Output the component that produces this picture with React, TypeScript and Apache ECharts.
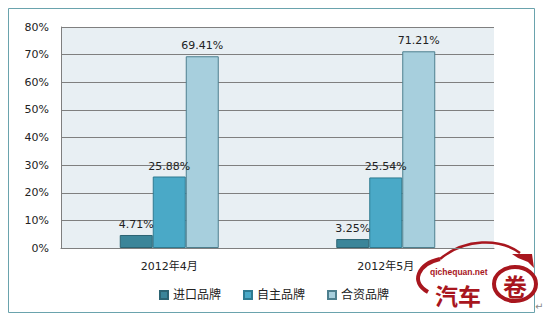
import React, { useEffect, useRef } from "react";
import * as echarts from "echarts";

const categories = ["2012年4月", "2012年5月"];
const seriesNames = ["进口品牌", "自主品牌", "合资品牌"];
const importBrand = [4.71, 3.25];
const domesticBrand = [25.88, 25.54];
const jointBrand = [69.41, 71.21];
const colors = ["#3b8599", "#4aa9c7", "#a7cfdd"];
const borderColors = ["#2c6473", "#2f7b91", "#4d7f8e"];

const FONT = "'DejaVu Sans', 'Noto Sans CJK SC', sans-serif";
const RED = "#a8161e";

export default function App() {
  const ref = useRef<HTMLDivElement>(null);
  useEffect(() => {
    const chart = echarts.init(ref.current!, null, { renderer: "svg" });
    const data = [importBrand, domesticBrand, jointBrand];
    chart.setOption({
      animation: false,
      backgroundColor: "#ffffff",
      textStyle: { fontFamily: FONT },
      grid: { left: 61, top: 27, width: 433, height: 221, show: true, backgroundColor: "#e8eff3", borderWidth: 0 },
      legend: {
        bottom: 11,
        left: "center",
        itemWidth: 8,
        itemHeight: 8,
        itemGap: 22,
        icon: "rect",
        textStyle: { fontSize: 12, color: "#222", fontFamily: FONT },
        data: seriesNames,
      },
      xAxis: {
        type: "category",
        data: categories,
        axisLine: { lineStyle: { color: "#7f7f7f" } },
        axisTick: { show: false },
        axisLabel: { color: "#222", fontSize: 11, margin: 13, fontFamily: FONT },
      },
      yAxis: {
        type: "value",
        min: 0,
        max: 80,
        interval: 10,
        axisLine: { show: true, lineStyle: { color: "#7f7f7f" } },
        axisTick: { show: false },
        splitLine: { lineStyle: { color: "#7f7f7f" } },
        axisLabel: { formatter: "{value}%", color: "#222", fontSize: 11, margin: 12, fontFamily: FONT },
      },
      series: seriesNames.map((name, i) => ({
        name,
        type: "bar",
        data: data[i],
        barWidth: 33,
        barGap: "0%",
        itemStyle: { color: colors[i], borderColor: borderColors[i], borderWidth: 1 },
        label: {
          show: true,
          position: "top",
          formatter: (p: any) => p.value.toFixed(2) + "%",
          color: "#222",
          fontSize: 11,
          distance: 5,
          fontFamily: FONT,
        },
      })),
      graphic: [
        {
          type: "rect",
          shape: { x: 8.5, y: 8.5, width: 526, height: 304 },
          style: { fill: "none", stroke: "#6aa3ad", lineWidth: 1 },
          silent: true,
        },
        // car silhouette swoosh
        {
          type: "bezierCurve",
          shape: { x1: 428, y1: 292, x2: 440, y2: 259, cpx1: 410, cpy1: 282, cpx2: 418, cpy2: 264 },
          style: { stroke: RED, lineWidth: 4, fill: "none" },
          silent: true,
        },
        {
          type: "bezierCurve",
          shape: { x1: 440, y1: 259, x2: 520, y2: 253, cpx1: 465, cpy1: 238, cpx2: 500, cpy2: 238 },
          style: { stroke: RED, lineWidth: 2.5, fill: "none" },
          silent: true,
        },
        {
          type: "polygon",
          shape: { points: [[512, 254], [532, 254], [534, 268], [528, 262], [518, 258]] },
          style: { fill: RED },
          silent: true,
        },
        {
          type: "text",
          x: 430,
          y: 272,
          style: { text: "qichequan.net", fill: RED, fontSize: 8.5, lineHeight: 9, fontWeight: "bold", verticalAlign: "middle", fontFamily: "'Liberation Sans', sans-serif" },
          silent: true,
        },
        {
          type: "text",
          x: 435,
          y: 295,
          style: { text: "汽车", fill: RED, fontSize: 23, lineHeight: 22, fontWeight: "bold", verticalAlign: "middle", fontFamily: "'Noto Sans CJK SC', sans-serif" },
          silent: true,
        },
        {
          type: "ellipse",
          shape: { cx: 515, cy: 284, rx: 21, ry: 17 },
          style: { fill: "#fff", stroke: RED, lineWidth: 4 },
          silent: true,
        },
        {
          type: "text",
          x: 515,
          y: 285,
          style: { text: "卷", fill: RED, fontSize: 24, lineHeight: 24, fontWeight: "bold", align: "center", verticalAlign: "middle", fontFamily: "'Noto Sans CJK SC', sans-serif" },
          silent: true,
        },
        {
          type: "text",
          x: 535,
          y: 301,
          style: { text: "↵", fill: "#888", fontSize: 10, fontFamily: "'DejaVu Sans', sans-serif" },
          silent: true,
        },
      ],
    });
    return () => chart.dispose();
  }, []);
  return <div ref={ref} style={{ position: "absolute", left: 0, top: 0, width: 548, height: 317 }} />;
}
